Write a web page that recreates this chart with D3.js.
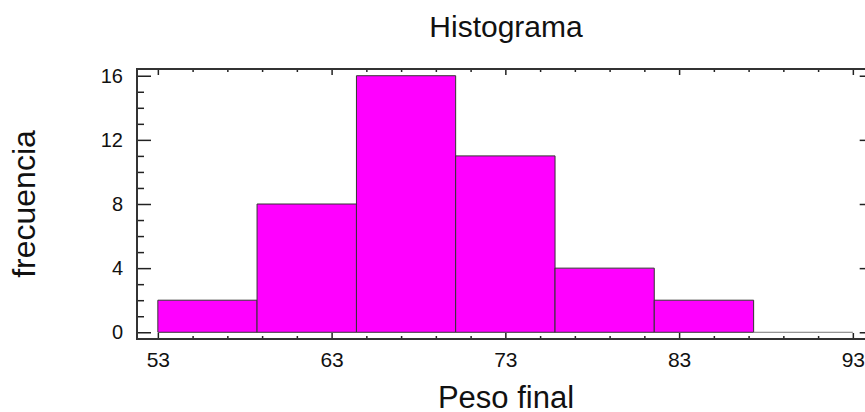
<!DOCTYPE html>
<html><head><meta charset="utf-8">
<script src="https://cdn.jsdelivr.net/npm/d3@7"></script>
<style>
html,body{margin:0;padding:0;background:#fff;}
svg{display:block;}
text{font-family:"Liberation Sans",Arial,Helvetica,sans-serif;fill:#111;}
</style></head>
<body><svg id="c" width="865" height="412"></svg>
<script>
// Data
const binEdges = [53, 58.71, 64.43, 70.14, 75.86, 81.57, 87.29, 93];
const counts = [2, 8, 16, 11, 4, 2, 0];
const xTicks = [53, 63, 73, 83, 93];
const xMinorTicks = [55, 57, 59, 61, 65, 67, 69, 71, 75, 77, 79, 81, 85, 87, 89, 91];
const yTicks = [0, 4, 8, 12, 16];
const yMinorTicks = [1, 2, 3, 5, 6, 7, 9, 10, 11, 13, 14, 15];
const title = "Histograma";
const xLabel = "Peso final";
const yLabel = "frecuencia";

const bins = counts.map((c, i) => ({x0: binEdges[i], x1: binEdges[i + 1], count: c}));

const svg = d3.select("#c");
const L = 137, R = 873.7, T = 69, B = 339;
const x = d3.scaleLinear().domain([51.8, 94.2]).range([L, R]);
const y = d3.scaleLinear().domain([-0.42, 16.42]).range([B, T]);

// Bars (paths so that empty bins still show as a line)
svg.append("g").selectAll("path").data(bins).join("path")
  .attr("d", d => {
    const x0 = x(d.x0), x1 = x(d.x1), y0 = y(0), y1 = y(d.count);
    return d.count > 0 ? `M${x0},${y0}V${y1}H${x1}V${y0}Z` : `M${x0},${y0}H${x1}`;
  })
  .attr("fill", "#ff00ff")
  .attr("stroke", d => d.count > 0 ? "#333" : "#777")
  .attr("stroke-width", 1);

function styleAxis(g, fs){
  g.select(".domain").remove();
  g.selectAll(".tick line").attr("stroke", "#222").attr("stroke-width", 1.5);
  g.selectAll("text").style("font-size", (fs || 20) + "px").attr("fill", "#111");
}

// Bottom axis (inward ticks)
svg.append("g").attr("transform", `translate(0,${B})`)
  .call(d3.axisBottom(x).tickValues(xTicks).tickSize(-6).tickSizeOuter(0).tickPadding(13).tickFormat(d3.format("d")))
  .call(g => styleAxis(g, 21));
svg.append("g").attr("transform", `translate(0,${B})`)
  .call(d3.axisBottom(x).tickValues(xMinorTicks).tickSize(-3).tickSizeOuter(0).tickFormat(""))
  .call(styleAxis);
// Top axis
svg.append("g").attr("transform", `translate(0,${T})`)
  .call(d3.axisTop(x).tickValues(xTicks).tickSize(-6).tickSizeOuter(0).tickFormat(""))
  .call(styleAxis);
svg.append("g").attr("transform", `translate(0,${T})`)
  .call(d3.axisTop(x).tickValues(xMinorTicks).tickSize(-3).tickSizeOuter(0).tickFormat(""))
  .call(styleAxis);
// Left axis
svg.append("g").attr("transform", `translate(${L},0)`)
  .call(d3.axisLeft(y).tickValues(yTicks).tickSize(-14).tickSizeOuter(0).tickPadding(14).tickFormat(d3.format("d")))
  .call(g => styleAxis(g, 20));
svg.append("g").attr("transform", `translate(${L},0)`)
  .call(d3.axisLeft(y).tickValues(yMinorTicks).tickSize(-7).tickSizeOuter(0).tickFormat(""))
  .call(styleAxis);
// Right axis
svg.append("g").attr("transform", `translate(${R},0)`)
  .call(d3.axisRight(y).tickValues(yTicks).tickSize(-14).tickSizeOuter(0).tickFormat(""))
  .call(styleAxis);
svg.append("g").attr("transform", `translate(${R},0)`)
  .call(d3.axisRight(y).tickValues(yMinorTicks).tickSize(-7).tickSizeOuter(0).tickFormat(""))
  .call(styleAxis);

// Frame
svg.append("rect").attr("x", L).attr("y", T).attr("width", R - L).attr("height", B - T)
  .attr("fill", "none").attr("stroke", "#333").attr("stroke-width", 2);

// Titles
svg.append("text").attr("x", 506).attr("y", 37).attr("text-anchor", "middle")
  .style("font-size", "30px").text(title);
svg.append("text").attr("x", 506).attr("y", 408).attr("text-anchor", "middle")
  .style("font-size", "31px").text(xLabel);
svg.append("text").attr("transform", "translate(35,204) rotate(-90)").attr("text-anchor", "middle")
  .style("font-size", "32px").text(yLabel);
</script></body></html>
